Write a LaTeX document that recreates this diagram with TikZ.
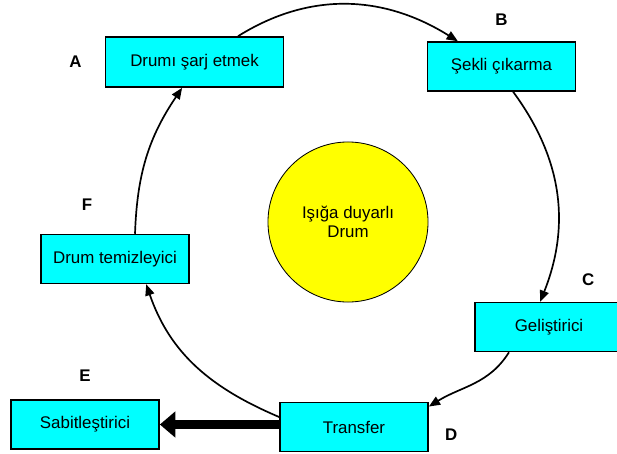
\documentclass[tikz,border=0pt]{standalone}
\usepackage{fontspec}
\setmainfont{Liberation Sans}
\usetikzlibrary{positioning,arrows.meta}
\definecolor{boxcyan}{RGB}{0,255,255}
\definecolor{drumyellow}{RGB}{255,255,0}
\tikzset{%
  stage/.style={draw,line width=1.2pt,fill=boxcyan,minimum width=3.7cm,minimum height=1.22cm,
    font=\fontsize{12}{14}\selectfont},
  sensor/.style={circle,draw,line width=0.6pt,fill=drumyellow,minimum size=4cm,align=center,
    font=\fontsize{12}{14}\selectfont},
  letter/.style={font=\bfseries\fontsize{12}{14}\selectfont},
  flow/.style={-{Triangle[length=8pt,width=6.5pt]},line width=1.2pt},
  bigflow/.style={-{Triangle[length=11pt,width=18pt]},line width=6pt}
}

\begin{document}
\begin{tikzpicture}[x=0.025cm,y=0.025cm]
  \useasboundingbox (0,0) rectangle (617,-453);

  \node [sensor] (drum) at (348,-222) {Işığa duyarlı\\Drum};

  \node [stage,minimum width=4.45cm,minimum height=1.25cm] (a) at (194.5,-62) {Drumı şarj etmek};
  \node [stage] (b) at (501.5,-66.5) {Şekli çıkarma};
  \node [stage] (c) at (549,-327) {Geliştirici};
  \node [stage] (d) at (354,-427) {Transfer};
  \node [stage] (e) at (85,-424.5) {Sabitleştirici};
  \node [stage] (f) at (115,-259) {Drum temizleyici};

  \node[letter,left=0.45cm of a] (la) {A};
  \node[letter,above=0.28cm of b] (lb) {B};
  \node[letter,above=0.28cm of c,xshift=0.98cm] (lc) {C};
  \node[letter,right=0.28cm of d,yshift=-0.2cm] (ld) {D};
  \node[letter,above=0.33cm of e] (le) {E};
  \node[letter,above=0.46cm of f,xshift=-0.7cm] (lf) {F};

  \draw[flow] ([xshift=1.09cm]a.north) to[out=32,in=148] ([xshift=-1.09cm]b.north);
  \draw[flow] ([xshift=0.29cm]b.south) to[bend left=29] ([xshift=-0.22cm]c.north);
  \draw[flow] ([xshift=-1cm]c.south) to[out=-122,in=32] ([yshift=-0.12cm]d.north east);
  \draw[flow] ([yshift=0.25cm]d.west) to[out=157,in=-71] ([xshift=0.78cm]f.south);
  \draw[flow] ([xshift=0.5cm]f.north) to[out=88,in=-124] ([xshift=-0.31cm]a.south);
  \draw[bigflow] (e.east -| d.west) -- (e.east);
\end{tikzpicture}
\end{document}
